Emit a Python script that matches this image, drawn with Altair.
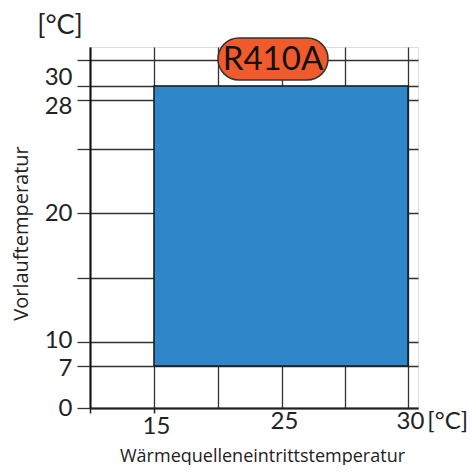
import altair as alt
import pandas as pd

# data
box_x = [15]
box_x2 = [30]
box_y = [7]
box_y2 = [30]
x_ticks = [10, 15, 20, 25, 27.5, 30]
y_ticks = [0, 7, 10, 15, 20, 24.5, 28, 30, 32]
y_labels = [0, 7, 10, 20, 28, 30]
refrigerant = "R410A"
unit = "[°C]"

W, H = 328, 361
NUM_FONT = "Lato"
TXT_FONT = "Open Sans"

box = pd.DataFrame({"x": box_x, "x2": box_x2, "y": box_y, "y2": box_y2})

xscale = alt.Scale(domain=[10, 25, 30, 30.4], range=[0, 192, 318, 328], zero=False, nice=False)
yscale = alt.Scale(domain=[0, 7, 10, 20, 28, 30, 33], range=[361, 319, 295, 166, 53, 39, 0],
                   zero=False, nice=False)

x_expr = ("datum.value == 15 ? '15' : datum.value == 25 ? '25' : "
          "datum.value == 30 ? '30\u2009" + unit + "' : ''")
y_expr = "indexof(" + str(y_labels) + ", datum.value) >= 0 ? datum.label : ''"

xaxis = alt.Axis(
    values=x_ticks, labelExpr=x_expr, grid=True, gridColor="#333", gridWidth=1.3, gridOpacity=1,
    domainColor="#222", domainWidth=2,
    tickColor="#222", tickWidth=1.5,
    tickSize={"condition": {"test": "datum.value <= 15", "value": 5}, "value": 0},
    labelFont=NUM_FONT, labelFontSize=24, labelColor="#222", labelPadding=1,
    labelAlign={"condition": {"test": "datum.value == 30", "value": "left"}, "value": "center"},
    labelOffset={"condition": {"test": "datum.value == 30", "value": -12}, "value": 2},
    title="Wärmequelleneintrittstemperatur", titleFont=TXT_FONT, titleFontSize=18,
    titleFontWeight="normal", titleColor="#222", titleX=172, titleY=53, titleAnchor="middle",
    titleBaseline="alphabetic",
)
yaxis = alt.Axis(
    values=y_ticks, labelExpr=y_expr, grid=True, gridColor="#333", gridWidth=1.3, gridOpacity=1,
    domainColor="#111", domainWidth=2,
    tickColor="#333", tickWidth=1.3, tickSize=13,
    labelFont=NUM_FONT, labelFontSize=24, labelColor="#222", labelPadding=5,
    labelOffset=alt.ExprRef(
        "datum.value == 30 ? -9 : datum.value == 28 ? 6 : datum.value == 10 ? -2 : datum.value == 7 ? 2 : 0"),
    title="Vorlauftemperatur", titleFont=TXT_FONT, titleFontSize=20,
    titleFontWeight="normal", titleColor="#222", titleX=-63, titleY=186, titleAngle=-90,
    titleAnchor="middle", titleBaseline="alphabetic",
)

rect = alt.Chart(box).mark_rect(fill="#2F86C8", stroke="#1a1a1a", strokeWidth=1.5).encode(
    x=alt.X("x:Q", scale=xscale, axis=xaxis),
    x2="x2",
    y=alt.Y("y:Q", scale=yscale, axis=yaxis),
    y2="y2",
)

unit_top = alt.Chart(pd.DataFrame({"t": [unit]})).mark_text(
    font=NUM_FONT, fontSize=27, color="#222", align="center", baseline="middle"
).encode(text="t:N", x=alt.value(-30), y=alt.value(-21))

pill = alt.Chart(pd.DataFrame({"t": [refrigerant]})).mark_rect(
    fill="#F15A2B", stroke="#333", strokeWidth=1.5, cornerRadius=21
).encode(x=alt.value(128), x2=alt.value(238), y=alt.value(-9), y2=alt.value(33))

pill_text = alt.Chart(pd.DataFrame({"t": [refrigerant]})).mark_text(
    font=NUM_FONT, fontSize=33, color="#111", align="center", baseline="middle"
).encode(text="t:N", x=alt.value(183), y=alt.value(13))

chart = alt.layer(rect, unit_top, pill, pill_text).properties(
    width=W, height=H,
    autosize=alt.AutoSizeParams(type="none"),
    padding={"left": 82, "top": 39, "right": 50, "bottom": 57},
).configure_view(stroke=None).configure(background="white")

chart.save("out.html", embed_options={"renderer": "svg", "actions": False})
